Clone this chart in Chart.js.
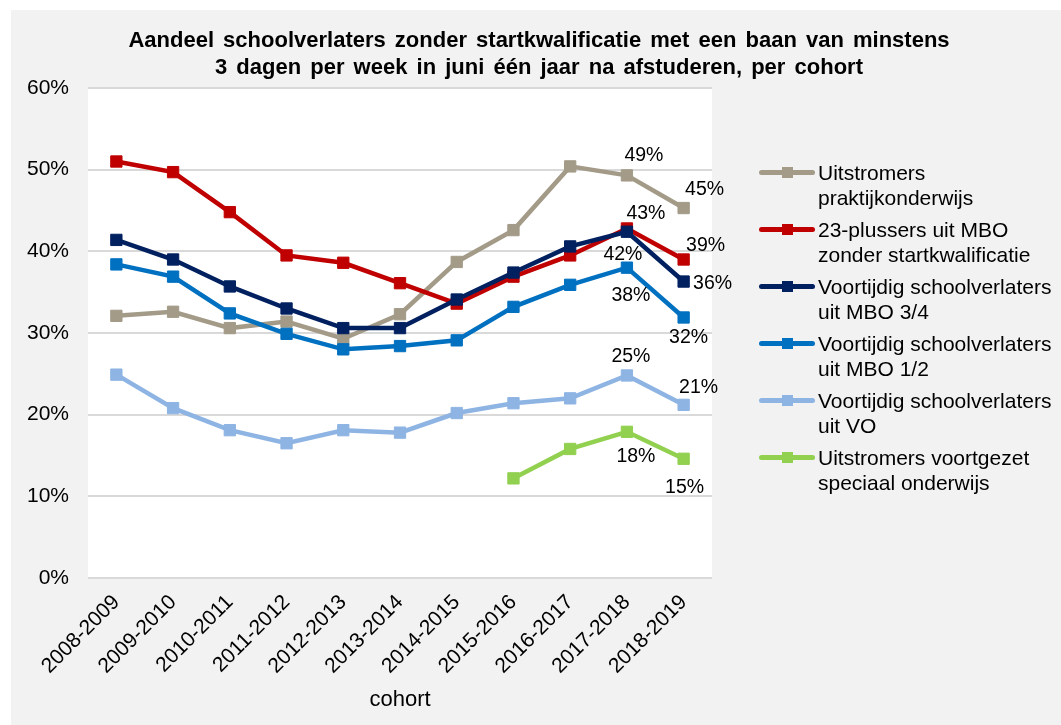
<!DOCTYPE html>
<html>
<head>
<meta charset="utf-8">
<script src="https://cdn.jsdelivr.net/npm/chart.js@4"></script>
<style>
  body { margin: 0; background: #fff; font-family: "Liberation Sans", Arial, sans-serif; }
  #wrap { position: relative; width: 1061px; height: 725px; overflow: hidden; }
  #bg { position: absolute; left: 11px; top: 10px; right: 0; bottom: 0; background: #f2f2f2; }
  #chart { position: absolute; left: 0; top: 0; }
  #title { position: absolute; left: 39px; width: 1000px; top: 26px; text-align: center; white-space: nowrap;
    font-weight: bold; font-size: 22px; line-height: 27px; word-spacing: 3px; color: #000; }
  #legend { position: absolute; left: 759px; top: 160px; font-size: 21px; line-height: 25px; color: #000; }
  #legend .item { position: relative; padding-left: 59px; margin-bottom: 7px; white-space: pre; }
  #legend .line { position: absolute; left: 0; top: 10px; width: 56px; height: 5px; border-radius: 3px; }
  #legend .mark { position: absolute; left: 23px; top: 7px; width: 11px; height: 11px; }
</style>
</head>
<body>
<div id="wrap">
  <div id="bg"></div>
  <canvas id="chart" width="1061" height="725"></canvas>
  <div id="title">Aandeel schoolverlaters zonder startkwalificatie met een baan van minstens<br>3 dagen per week in juni één jaar na afstuderen, per cohort</div>
  <div id="legend"></div>
</div>
<script>
// cohorts on the x axis
const cohorts = ["2008-2009", "2009-2010", "2010-2011", "2011-2012", "2012-2013", "2013-2014",
  "2014-2015", "2015-2016", "2016-2017", "2017-2018", "2018-2019"];

// share with a job of >= 3 days/week, %
const praktijk = [32.1, 32.6, 30.6, 31.4, 29.3, 32.3, 38.7, 42.6, 50.4, 49.3, 45.3];
const plus23 = [51.0, 49.7, 44.8, 39.5, 38.6, 36.1, 33.6, 36.9, 39.5, 42.8, 39.0];
const mbo34 = [41.4, 39.0, 35.7, 33.0, 30.6, 30.6, 34.1, 37.4, 40.6, 42.4, 36.3];
const mbo12 = [38.4, 36.9, 32.4, 29.9, 28.0, 28.4, 29.1, 33.2, 35.9, 38.0, 31.9];
const vo = [24.9, 20.8, 18.1, 16.5, 18.1, 17.8, 20.2, 21.4, 22.0, 24.8, 21.2];
const vso = [null, null, null, null, null, null, null, 12.2, 15.8, 17.9, 14.6];

const seriesNames = [
  "Uitstromers\npraktijkonderwijs",
  "23-plussers uit MBO\nzonder startkwalificatie",
  "Voortijdig schoolverlaters\nuit MBO 3/4",
  "Voortijdig schoolverlaters\nuit MBO 1/2",
  "Voortijdig schoolverlaters\nuit VO",
  "Uitstromers voortgezet\nspeciaal onderwijs",
];
const seriesData = [praktijk, plus23, mbo34, mbo12, vo, vso];
const seriesColors = ["#a39b88", "#c00000", "#002060", "#0070c0", "#8eb4e3", "#92d050"];

const yTicks = [0, 10, 20, 30, 40, 50, 60];

// which points get a value label, and where the label sits relative to the point (px)
const labelIdx = [9, 10];
const labelOffsets = [
  [[17, -20], [21, -18]],
  [[19, -15], [22, -14]],
  [[-4, 23], [29, 2]],
  [[4, 28], [5, 20]],
  [[4, -19], [15, -17]],
  [[9, 25], [1, 29]],
];

const FONT = "'Liberation Sans', Arial, sans-serif";

const plotBg = {
  id: "plotBg",
  beforeDraw(chart) {
    const { ctx, chartArea: a } = chart;
    ctx.save();
    ctx.fillStyle = "#fff";
    ctx.fillRect(a.left, a.top, a.right - a.left, a.bottom - a.top);
    ctx.restore();
  },
};

const valueLabels = {
  id: "valueLabels",
  afterDatasetsDraw(chart) {
    const ctx = chart.ctx;
    ctx.save();
    ctx.font = "19.5px " + FONT;
    ctx.fillStyle = "#000";
    ctx.textAlign = "center";
    ctx.textBaseline = "middle";
    chart.data.datasets.forEach((ds, di) => {
      const meta = chart.getDatasetMeta(di);
      labelIdx.forEach((idx, k) => {
        const v = ds.data[idx];
        if (v == null) return;
        const pt = meta.data[idx];
        const [dx, dy] = labelOffsets[di][k];
        ctx.fillText(Math.round(v) + "%", pt.x + dx, pt.y + dy);
      });
    });
    ctx.restore();
  },
};

const datasets = seriesData.map((d, i) => ({
  label: seriesNames[i].replace("\n", " "),
  data: d,
  borderColor: seriesColors[i],
  backgroundColor: seriesColors[i],
  borderWidth: 4.5,
  pointStyle: "rect",
  pointRadius: 8,
  pointBorderWidth: 1,
  tension: 0,
  order: seriesData.length - i,
}));

new Chart(document.getElementById("chart"), {
  type: "line",
  data: { labels: cohorts, datasets },
  options: {
    responsive: false,
    animation: false,
    layout: { padding: { top: 88, left: 7, right: 349, bottom: 8 } },
    plugins: {
      legend: { display: false },
      tooltip: { enabled: false },
    },
    scales: {
      x: {
        offset: true,
        grid: { display: false, drawTicks: false },
        border: { display: false },
        ticks: {
          color: "#000",
          font: { family: FONT, size: 21 },
          minRotation: 45,
          maxRotation: 45,
          padding: 12,
          autoSkip: false,
        },
        title: {
          display: true,
          text: "cohort",
          color: "#000",
          font: { family: FONT, size: 22 },
          padding: { top: 4, bottom: 4 },
        },
        afterFit(s) { s.height = 139; },
      },
      y: {
        min: 0,
        max: 60,
        afterBuildTicks(s) { s.ticks = yTicks.map((v) => ({ value: v })); },
        grid: { color: "#d9d9d9", lineWidth: 2, drawTicks: false },
        border: { display: false },
        ticks: {
          color: "#000",
          font: { family: FONT, size: 21 },
          padding: 19,
          callback: (v) => v + "%",
        },
        afterFit(s) { s.width = 81; },
      },
    },
  },
  plugins: [plotBg, valueLabels],
});

// legend, built from the same series arrays
const leg = document.getElementById("legend");
seriesNames.forEach((name, i) => {
  const item = document.createElement("div");
  item.className = "item";
  item.innerHTML = `<span class="line" style="background:${seriesColors[i]}"></span>` +
    `<span class="mark" style="background:${seriesColors[i]}"></span>`;
  item.appendChild(document.createTextNode(name));
  leg.appendChild(item);
});
</script>
</body>
</html>
